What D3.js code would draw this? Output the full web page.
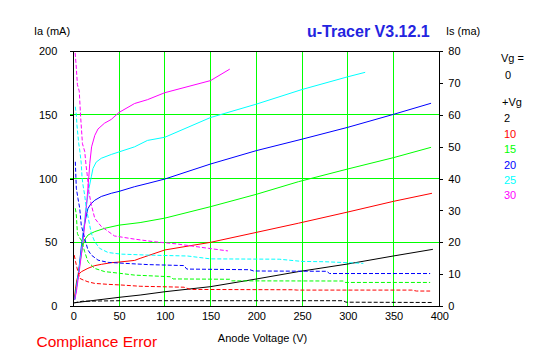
<!DOCTYPE html>
<html>
<head>
<meta charset="utf-8">
<script src="https://cdn.jsdelivr.net/npm/d3@7"></script>
<style>
  html, body { margin: 0; padding: 0; background: #ffffff; }
  svg { display: block; font-family: "Liberation Sans", Arial, sans-serif; }
</style>
</head>
<body>
<svg id="chart" width="547" height="357"></svg>
<script>
// ---------------- DATA ----------------
const title = "u-Tracer V3.12.1";
const xLabel = "Anode Voltage (V)";
const yLeftLabel = "Ia (mA)";
const yRightLabel = "Is (ma)";
const errorText = "Compliance Error";

const voltageTicks = [0, 50, 100, 150, 200, 250, 300, 350, 400];
const iaTicks = [0, 50, 100, 150, 200];
const isTicks = [0, 10, 20, 30, 40, 50, 60, 70, 80];
const iaGrid = [50, 100, 150];
const voltageGrid = [50, 100, 150, 200, 250, 300, 350];

const vgLabels = ["2", "10", "15", "20", "25", "30"];
const seriesColors = ["#000000", "#ff0000", "#00ff00", "#0000ff", "#00ffff", "#ff00ff"];

// Anode current Ia (mA) vs anode voltage (V), left axis
const ia_vg2  = [[1,2.5],[50,6.8],[73,8.6],[100,11.2],[150,15.2],[200,21.2],[246,27],[300,33],[350,39.3],[393,44.5]];
const ia_vg10 = [[1,5],[2.5,14],[4,21],[6,25],[9,27],[16,29.6],[23.4,31.7],[30.6,32.7],[41.5,34],[50,34.5],[67,35.8],[73,37.4],[100,44],[150,50],[200,57.8],[246,65],[300,73.8],[350,82.2],[392,88.5]];
const ia_vg15 = [[1.5,5],[3,13],[5,22],[7.5,35],[10,46],[12.4,52],[16,55.7],[23.4,58.4],[34.3,61],[50,63.5],[73,65.5],[100,69],[150,78],[200,87.7],[246,97.6],[300,107.6],[350,116.5],[391,124.6]];
const ia_vg20 = [[1.5,5],[3,12],[6,28],[9,48],[12,63],[14.5,72],[16,76.5],[19,80],[23.4,83],[30.6,86],[41.5,88.5],[50,90],[67,93.7],[81.6,96.3],[100,99.7],[150,111.5],[200,122],[250,131],[300,140.3],[350,150.5],[391,159.2]];
const ia_vg25 = [[1.5,5],[3,12],[6.5,30],[10,50],[13.5,75],[17,92],[19.7,101.5],[21.5,108],[25,113],[30.6,116],[41.5,119],[50,121],[67,125],[81,130],[100,132.5],[150,148],[200,158.5],[250,170],[300,180],[319,183.5]];
const ia_vg30 = [[1.5,5],[3.3,11],[7,30],[10.6,50],[14.2,77],[16.8,100],[18,112],[20,125],[23.5,134],[27,139],[34,143.5],[41.5,146.5],[50,152],[67,159],[81,162],[100,167.5],[150,177],[171,186]];

// Screen current Is (mA) vs anode voltage (V), right axis
const is_vg2  = [[1,1.0],[10,1.5],[50,1.66],[295,1.66],[298,1.2],[393,1.1]];
const is_vg10 = [[1,16],[2.5,13.9],[4,12],[5.1,10.8],[7,8.7],[10.6,8.2],[16,7.6],[23.4,7.1],[38,6.8],[52,6.6],[73,6.2],[121,5.9],[128,5.2],[240,5.1],[245,5.0],[370,5.0],[375,4.7],[390,4.7]];
const is_vg15 = [[2.2,30.7],[3.3,28.6],[4.5,22.8],[5.9,21.8],[8.7,20.7],[12.4,17.1],[16,13.9],[23.4,11.8],[34.3,10.8],[50,10.3],[67,9.7],[106,9.2],[109,8.5],[171,8.4],[173,7.9],[295,7.85],[297,7.4],[390,7.4]];
const is_vg20 = [[2.2,45.3],[3.3,37],[5.1,33.8],[7,30.7],[8.7,25.4],[12.4,21.3],[16,17.6],[19.7,16],[27,14.4],[38,13.7],[56,13.4],[82,13],[121,12.7],[124,11.6],[193,11.4],[197,11],[277,10.9],[280,10.2],[390,10.2]];
const is_vg25 = [[2.2,62.6],[3.3,60],[4,56.8],[5.9,51.1],[7,49],[8.7,44.8],[9.5,40.6],[10.6,38],[12.4,34.9],[14.2,30.7],[19.7,22.8],[23.4,20.2],[28.8,18.1],[38,16.8],[52,16.3],[80,16],[125,15.7],[150,14.8],[225,14.7],[250,14],[275,13.9],[317,13.4]];
const is_vg30 = [[2,79.5],[3,76],[4.5,69.5],[6.5,67.5],[8,59.5],[10,51],[12.5,48.5],[14,44],[15.5,40.5],[17,36],[19.5,32],[23.5,27.5],[30.5,25],[45,22],[67,21],[88,20.2],[113,19.5],[148,18.1],[169,17.3]];

const iaSeries = [ia_vg2, ia_vg10, ia_vg15, ia_vg20, ia_vg25, ia_vg30];
const isSeries = [is_vg2, is_vg10, is_vg15, is_vg20, is_vg25, is_vg30];

// ---------------- CHART ----------------
const svg = d3.select("#chart");
const L = 73.3, R = 439.3, T = 51.3, B = 306;

const x = d3.scaleLinear().domain([0, 400]).range([L, R]);
const yL = d3.scaleLinear().domain([0, 200]).range([B, T]);
const yR = d3.scaleLinear().domain([0, 80]).range([B, T]);

const fontSize = "11px";

// grid lines
const grid = svg.append("g").attr("shape-rendering", "crispEdges");
grid.selectAll("line.v").data(voltageGrid).join("line")
  .attr("x1", d => x(d)).attr("x2", d => x(d))
  .attr("y1", T).attr("y2", B)
  .attr("stroke", "#00ff00").attr("stroke-width", 1);
grid.selectAll("line.h").data(iaGrid).join("line")
  .attr("x1", L - 3).attr("x2", R)
  .attr("y1", d => yL(d)).attr("y2", d => yL(d))
  .attr("stroke", "#00ff00").attr("stroke-width", 1);

// curves
const line = d3.line().x(d => x(d[0]));
const curves = svg.append("g").attr("fill", "none").attr("stroke-width", 1);
iaSeries.forEach((s, i) => {
  curves.append("path")
    .attr("d", line.y(d => yL(d[1]))(s))
    .attr("stroke", seriesColors[i]);
});
isSeries.forEach((s, i) => {
  curves.append("path")
    .attr("d", line.y(d => yR(d[1]))(s))
    .attr("stroke", seriesColors[i])
    .attr("stroke-dasharray", "4,2");
});

// frame
const frame = svg.append("g").attr("shape-rendering", "crispEdges").attr("stroke", "#000").attr("stroke-width", 1);
frame.append("line").attr("x1", L).attr("x2", R).attr("y1", T).attr("y2", T);
frame.append("line").attr("x1", L).attr("x2", R).attr("y1", B).attr("y2", B);
frame.append("line").attr("x1", L).attr("x2", L).attr("y1", T).attr("y2", B + 1);
frame.append("line").attr("x1", R).attr("x2", R).attr("y1", T).attr("y2", B + 1);

// axes
const leftAxis = svg.append("g")
  .attr("transform", `translate(${L},0)`)
  .call(d3.axisLeft(yL).tickValues(iaTicks).tickSizeInner(3).tickSizeOuter(0).tickPadding(13));
const rightAxis = svg.append("g")
  .attr("transform", `translate(${R},0)`)
  .call(d3.axisRight(yR).tickValues(isTicks).tickSizeInner(4).tickSizeOuter(0).tickPadding(5));
const bottomAxis = svg.append("g")
  .attr("transform", `translate(0,${B})`)
  .call(d3.axisBottom(x).tickValues(voltageTicks).tickSizeInner(0).tickSizeOuter(0).tickPadding(6));

[leftAxis, rightAxis, bottomAxis].forEach(a => {
  a.select(".domain").remove();
  a.attr("font-family", null).attr("font-size", fontSize);
  a.selectAll("line").attr("stroke", "#000").attr("shape-rendering", "crispEdges");
  a.selectAll("text").attr("fill", "#000");
});

// texts
const txt = (s, xx, yy, opts = {}) => svg.append("text")
  .attr("x", xx).attr("y", yy)
  .attr("font-size", opts.size || fontSize)
  .attr("font-weight", opts.weight || "normal")
  .attr("fill", opts.color || "#000")
  .attr("text-anchor", opts.anchor || "start")
  .attr("dominant-baseline", "central")
  .text(s);

txt(yLeftLabel, 34, 31);
txt(yRightLabel, 446, 31);
txt(title, 307, 31, { size: "16px", weight: "bold", color: "#2424e0" });
txt(xLabel, 262.5, 338, { anchor: "middle" });
txt(errorText, 36.5, 341, { size: "15.5px", color: "#ff0000" });

// legend
txt("Vg =", 501, 58);
txt("0", 505, 75);
txt("+Vg", 502, 101.7);
const legendY = [118, 133.5, 149, 164.5, 180, 195];
vgLabels.forEach((v, i) => txt(v, 504, legendY[i], { color: seriesColors[i] }));
</script>
</body>
</html>
